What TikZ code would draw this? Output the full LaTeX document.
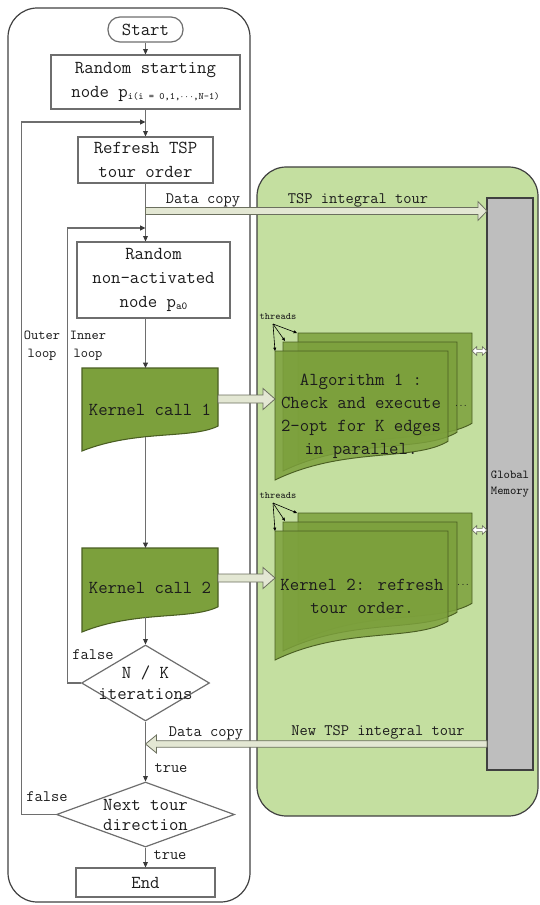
\documentclass[tikz,border=0pt]{standalone}
\usepackage{fontspec}
\usetikzlibrary{shapes.geometric,arrows.meta,calc}
\definecolor{lgreen}{HTML}{C4DFA0}
\definecolor{kgreen}{HTML}{7CA03C}
\definecolor{kedge}{HTML}{4A5E22}
\definecolor{memgray}{HTML}{BEBEBE}
\definecolor{linegray}{HTML}{6E6E6E}
\definecolor{arrgray}{HTML}{3A3A3A}
\definecolor{boxedge}{HTML}{404040}
\definecolor{fatfill}{HTML}{E3E7D3}
\definecolor{fatedge}{HTML}{6B6F5E}
\definecolor{txtc}{HTML}{1C1C1C}
\newcommand\myfs[1]{\fontsize{#1}{#1}\selectfont}
\newcommand\docshape[5]{\path[#5] (#1,#2) -- ({#1+#3},#2) -- ({#1+#3},{#2+0.7*#4}) .. controls ({#1+0.8*#3},{#2+0.86*#4}) and ({#1+0.4*#3},{#2+0.74*#4}) .. (#1,{#2+#4}) -- cycle;}
\tikzset{
 fatR/.style n args={3}{to path={let \p1=(\tikztostart),\p2=(\tikztotarget) in (\x1,{\y1+#1}) -- ({\x2-#3},{\y1+#1}) -- ({\x2-#3},{\y1+#2}) -- (\x2,\y1) -- ({\x2-#3},{\y1-#2}) -- ({\x2-#3},{\y1-#1}) -- (\x1,{\y1-#1}) -- cycle}},
 fatL/.style n args={3}{to path={let \p1=(\tikztostart),\p2=(\tikztotarget) in (\x1,{\y1+#1}) -- ({\x2+#3},{\y1+#1}) -- ({\x2+#3},{\y1+#2}) -- (\x2,\y1) -- ({\x2+#3},{\y1-#2}) -- ({\x2+#3},{\y1-#1}) -- (\x1,{\y1-#1}) -- cycle}},
 fatLR/.style n args={3}{to path={let \p1=(\tikztostart),\p2=(\tikztotarget) in (\x1,\y1) -- ({\x1+#3},{\y1+#2}) -- ({\x1+#3},{\y1+#1}) -- ({\x2-#3},{\y1+#1}) -- ({\x2-#3},{\y1+#2}) -- (\x2,\y1) -- ({\x2-#3},{\y1-#2}) -- ({\x2-#3},{\y1-#1}) -- ({\x1+#3},{\y1-#1}) -- ({\x1+#3},{\y1-#2}) -- cycle}},
}
\begin{document}
\begin{tikzpicture}[x=0.75pt,y=-0.75pt,
  every node/.style={text=txtc, font=\ttfamily\myfs{13.7}},
  box/.style={draw=linegray, line width=0.9pt, fill=white, inner sep=0pt, align=center, font=\ttfamily\fontsize{13.7}{18}\selectfont},
  term/.style={draw=linegray, line width=0.9pt, fill=white, rounded corners=9pt, inner sep=0pt, minimum width=56.25pt, minimum height=18.75pt},
  diam/.style={shape=diamond, draw=linegray, line width=0.9pt, fill=white, inner sep=0pt},
  flow/.style={draw=linegray, line width=0.8pt, -{Triangle[length=4pt,width=3.6pt,color=arrgray]}},
  kdoc/.style={draw=kedge, line width=0.8pt, fill=kgreen},
  stk/.style={draw=kedge, line width=0.7pt, fill=kgreen, fill opacity=0.85},
  fat/.style={draw=fatedge, fill=fatfill, line width=0.6pt},
  bone/.style={draw=fatedge, fill=white, line width=0.5pt},
  lbl/.style={font=\ttfamily\myfs{12}},
  sml/.style={font=\ttfamily\fontsize{10.3}{13.5}\selectfont, align=center},
  thr/.style={font=\ttfamily\myfs{7.4}},
  tl/.style={draw=black, line width=0.45pt, -{Triangle[length=2.5pt,width=2.2pt]}}
]
\useasboundingbox (0,0) rectangle (539,905);

% containers
\draw[draw=boxedge, line width=0.9pt, rounded corners=22pt] (8,8) rectangle (250,902);
\draw[draw=boxedge, line width=0.9pt, fill=lgreen, rounded corners=22pt] (257,167) rectangle (538,816);
\node[draw=boxedge, fill=memgray, line width=0.8pt, minimum width=34.5pt, minimum height=429pt, inner sep=0pt] (mem) at (510,484) {};
\node[font=\ttfamily\fontsize{9.1}{12}\selectfont, align=center] (memtxt) at (mem.center) {Global\\Memory};

% flowchart nodes
\node[term] (start) at (145.5,29.5) {Start};
\node[box, minimum width=141.75pt, minimum height=40.5pt] (rs) at (145.5,82) {Random starting\\node p\raisebox{-0.3ex}{\myfs{7.4}i(i = 0,1,$\cdots$,N-1)}};
\node[box, minimum width=101.25pt, minimum height=34.5pt] (ref) at (145.5,160) {Refresh TSP\\tour order};
\node[box, minimum width=114.75pt, minimum height=57pt] (rna) at (153.5,280) {Random\\non-activated\\node p\raisebox{-0.3ex}{\myfs{8}a0}};
\docshape{82}{368}{136}{83}{kdoc}
\node (k1) at (150,410) {Kernel call 1};
\docshape{82}{548}{136}{84}{kdoc}
\node (k2) at (150,588) {Kernel call 2};
\node[diam, minimum width=96pt, minimum height=57pt] (nk) at (145.5,683) {};
\node[align=center, font=\ttfamily\fontsize{13.7}{15.75}\selectfont] (nktxt) at (nk.center) {N / K\\iterations};
\node[diam, minimum width=133.5pt, minimum height=48.75pt] (nt) at (145.5,814.5) {};
\node[align=center, font=\ttfamily\fontsize{13.7}{15}\selectfont] (nttxt) at (nt.center) {Next tour\\direction};
\node[box, minimum width=104.25pt, minimum height=21.75pt] (endn) at (145.5,882.5) {End};

% coordinates on main line
\coordinate (oin) at (145.5,122);
\coordinate (iin) at (145.5,228);
\coordinate (k1top) at (145.5,368);
\coordinate (k1bot) at (145.5,437);
\coordinate (k2top) at (145.5,548);
\coordinate (k2bot) at (145.5,617);

% connectors
\draw[flow] (start) -- (rs);
\draw[flow] (rs) -- (ref);
\draw[flow] (ref.south) -- (ref.south |- rna.north);
\draw[flow] (ref.south |- rna.south) -- (k1top);
\draw[flow] (k1bot) -- (k2top);
\draw[flow] (k2bot) -- (nk.north);
\draw[flow] (nk.south) -- (nt.north);
\draw[flow] (nt.south) -- (endn.north);
\draw[flow] (nk.west) -- ++(-13,0) |- (iin);
\draw[flow] (nt.west) -- ++(-34,0) |- (oin);

% stacked documents
\docshape{298}{333}{174}{129}{stk}
\docshape{283}{342}{174}{129}{stk}
\docshape{275}{351}{173}{129}{stk}
\docshape{298}{513}{174}{129}{stk}
\docshape{283}{522}{174}{129}{stk}
\docshape{275}{531}{173}{129}{stk}
\node[align=center, font=\ttfamily\fontsize{13.7}{17.25}\selectfont] (alg) at (361,416) {Algorithm 1 :\\Check and execute\\2-opt for K edges\\in parallel.};
\node[align=center, font=\ttfamily\fontsize{13.7}{17.25}\selectfont] (kr2) at (362,596) {Kernel 2: refresh\\tour order.};
\node[font=\ttfamily\myfs{6.3}] (dots1) at (461,406) {...};
\node[font=\ttfamily\myfs{6.3}] (dots2) at (463,585) {...};

% threads
\node[thr] (thr1) at (278,317) {threads};
\coordinate (th1) at (273,324);
\coordinate (a1) at (275,351); \coordinate (a2) at (285,341); \coordinate (a3) at (297,333);
\draw[tl] (th1) -- (a1); \draw[tl] (th1) -- (a2); \draw[tl] (th1) -- (a3);
\node[thr] (thr2) at (278,496) {threads};
\coordinate (th2) at (273,503);
\coordinate (b1) at (275,531); \coordinate (b2) at (285,521); \coordinate (b3) at (297,513);
\draw[tl] (th2) -- (b1); \draw[tl] (th2) -- (b2); \draw[tl] (th2) -- (b3);

% fat arrows
\coordinate (dcs) at (145.5,211); \coordinate (dce) at (487,211);
\draw[fat] (dcs) to[fatR={2.6pt}{7.1pt}{6.8pt}] (dce);
\coordinate (k1s) at (218,399); \coordinate (k1e) at (275,399);
\draw[fat] (k1s) to[fatR={3pt}{7.9pt}{9pt}] (k1e);
\coordinate (k2s) at (218,578); \coordinate (k2e) at (275,578);
\draw[fat] (k2s) to[fatR={3pt}{7.9pt}{9pt}] (k2e);
\coordinate (bcs) at (487,744); \coordinate (bce) at (145.5,744);
\draw[fat] (bcs) to[fatL={2.4pt}{6.8pt}{8.3pt}] (bce);
\coordinate (m1s) at (472,351); \coordinate (m1e) at (487,351);
\draw[bone] (m1s) to[fatLR={1.2pt}{3.2pt}{3.5pt}] (m1e);
\coordinate (m2s) at (472,530); \coordinate (m2e) at (487,530);
\draw[bone] (m2s) to[fatLR={1.2pt}{3.2pt}{3.5pt}] (m2e);

% labels
\node[lbl] (l1) at (203,200) {Data copy};
\node[lbl] (l2) at (358,200) {TSP integral tour};
\node[lbl] (l3) at (206,733) {Data copy};
\node[lbl] (l4) at (378,732) {New TSP integral tour};
\node[sml] (l5) at (42,346) {Outer\\loop};
\node[sml] (l6) at (88,346) {Inner\\loop};
\node[lbl] (l7) at (93,655) {false};
\node[lbl] (l8) at (171,768) {true};
\node[lbl] (l9) at (47,797) {false};
\node[lbl] (l10) at (170,855) {true};
\end{tikzpicture}
\end{document}
